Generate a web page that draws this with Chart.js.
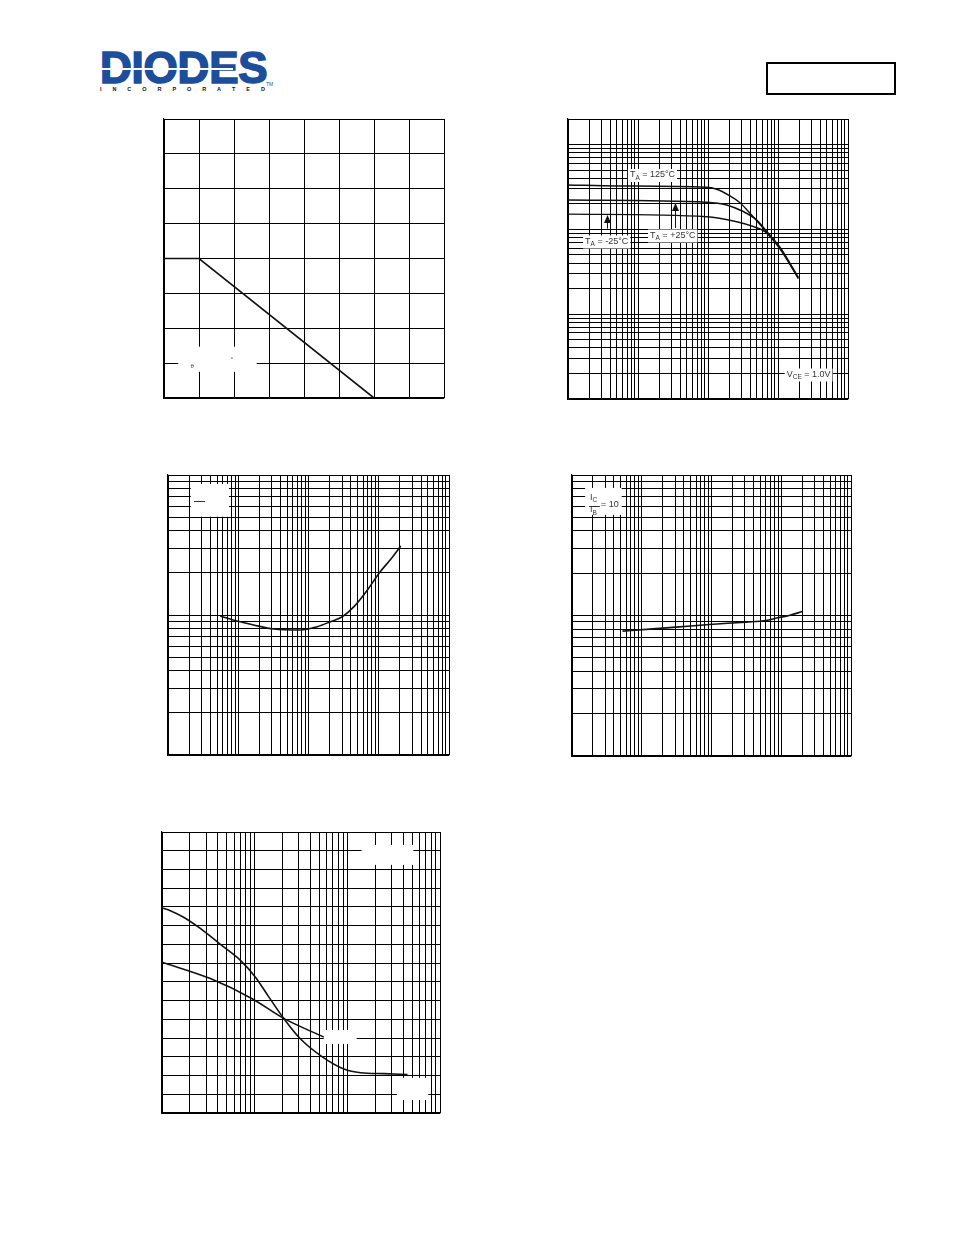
<!DOCTYPE html>
<html lang="en">
<head>
<meta charset="UTF-8">
<title>Typical Characteristics</title>
<script src="https://cdn.jsdelivr.net/npm/chart.js@4.4.1/dist/chart.umd.min.js"></script>
<style>
  body { margin: 0; padding: 0; background: #fff; font-family: 'Liberation Sans', Arial, sans-serif; }
  .page { position: relative; width: 954px; height: 1235px; overflow: hidden; background: #fff; }
  .logo { position: absolute; left: 100px; top: 46px; font: bold 44px 'Liberation Sans', Arial, sans-serif; line-height: 44px; color: #1d4e9c; letter-spacing: -0.2px; -webkit-text-stroke: 1.6px #1d4e9c; }
  .stripe { position: absolute; left: 101px; top: 68px; width: 132px; height: 2px; background: #fff; }
  .inc { position: absolute; left: 100px; top: 87px; width: 165px; display: flex; justify-content: space-between; font: bold 5.5px 'Liberation Sans', Arial, sans-serif; line-height: 5px; color: #111; }
  .tm { position: absolute; left: 266px; top: 81px; font: 5px 'Liberation Sans', Arial, sans-serif; color: #1d4e9c; }
  .partbox { position: absolute; left: 766px; top: 62px; width: 130px; height: 33px; border: 2px solid #000; box-sizing: border-box; }
  canvas { position: absolute; }
</style>
</head>
<body>
<div class="page">
  <div class="logo">DIODES</div>
  <div class="stripe"></div>
  <div class="inc"><span>I</span><span>N</span><span>C</span><span>O</span><span>R</span><span>P</span><span>O</span><span>R</span><span>A</span><span>T</span><span>E</span><span>D</span></div>
  <div class="tm">TM</div>
  <div class="partbox"></div>
  <canvas id="c1"></canvas>
  <canvas id="c2"></canvas>
  <canvas id="c3"></canvas>
  <canvas id="c4"></canvas>
  <canvas id="c5"></canvas>
</div>
<script>
// chart 1 - power derating (linear grid)
const deratingTemp = [0, 25, 150];
const deratingPower = [200, 200, 0];
const deratingXTicks = [0, 25, 50, 75, 100, 125, 150, 175, 200];
const deratingYTicks = [0, 50, 100, 150, 200, 250, 300, 350, 400];

// chart 2 - hFE vs IC, three temperatures
const hfeIc125 = [0.1, 0.5, 9.6, 13.3, 20.6, 28.6, 39.8, 61.7, 107, 195];
const hfe125 = [334, 325, 314, 297, 248, 206, 155, 103, 60, 26.5];
const hfeIc25 = [0.1, 9.6, 18.5, 31.9, 49.6, 69, 107, 195];
const hfe25 = [222, 209, 194, 162, 129, 94, 61, 27];
const hfeIcM25 = [0.1, 9.6, 25.7, 44.4, 65.2, 107, 195];
const hfeM25 = [151, 141, 123, 108, 94, 58.7, 26.5];

// chart 3 - VCE(sat) vs IC
const vceIc = [0.553, 0.958, 1.65, 3.19, 7.69, 13.3, 20.6, 30.3, 44.4, 69, 101, 148, 206];
const vceSat = [0.0984, 0.0906, 0.0849, 0.0794, 0.0781, 0.0825, 0.0896, 0.0972, 0.1147, 0.151, 0.199, 0.25, 0.311];

// chart 4 - VBE(sat) vs IC
const vbeIc = [0.53, 1.3, 3.13, 9.36, 31.3, 60.4, 88.5, 130, 201];
const vbeSat = [0.774, 0.8, 0.826, 0.863, 0.897, 0.921, 0.963, 1.0, 1.068];

// chart 5 - capacitance vs reverse voltage
const capVrA = [0.1, 0.123, 0.171, 0.259, 0.427, 0.702, 1.02, 1.42, 2.06, 3.13, 5.37, 9.19, 13.9, 24.9, 44.6];
const capA = [21.9, 21.6, 20.9, 19.7, 18.0, 16.3, 14.5, 12.4, 10.1, 7.9, 6.0, 4.7, 4.3, 4.2, 4.1];
const capVrB = [0.1, 0.333, 0.94, 2.06, 5.58];
const capB = [16.1, 14.35, 12.2, 10.1, 8.1];
const capYTicks = [0, 2, 4, 6, 8, 10, 12, 14, 16, 18, 20, 22, 24, 26, 28, 30];

const decadeSteps = [1, 2, 3, 4, 5, 6, 7, 8, 9];

function logGrid(min, max) {
  const out = [];
  for (let e = Math.floor(Math.log10(min)); e <= Math.ceil(Math.log10(max)); e++) {
    for (const m of decadeSteps) {
      const v = +(m * Math.pow(10, e)).toPrecision(6);
      if (v >= min * 0.9999 && v <= max * 1.0001) out.push(v);
    }
  }
  return out;
}

function pts(xs, ys) {
  return xs.map((x, i) => ({ x: x, y: ys[i] }));
}

function axis(type, min, max, ticks) {
  return {
    type: type, min: min, max: max,
    ticks: { display: false },
    grid: { color: '#000', lineWidth: 1, drawTicks: false },
    border: { display: true, color: '#000', width: 1.2 },
    afterBuildTicks: s => { s.ticks = ticks.map(v => ({ value: v })); }
  };
}

function curve(data, smooth, width) {
  return {
    data: data, borderColor: '#111', borderWidth: width || 1.5, pointRadius: 0,
    fill: false, cubicInterpolationMode: smooth ? 'monotone' : 'default', tension: 0
  };
}

// white blanks, text and arrows drawn inside the plot
function notes(cfg) {
  return {
    id: 'notes',
    beforeDatasetsDraw(chart) {
      const a = chart.chartArea, ctx = chart.ctx;
      const fx = f => a.left + f * (a.right - a.left);
      const fy = f => a.top + f * (a.bottom - a.top);
      ctx.save();
      ctx.fillStyle = '#fff';
      (cfg.blanks || []).forEach(b => ctx.fillRect(fx(b[0]), fy(b[1]), fx(b[2]) - fx(b[0]), fy(b[3]) - fy(b[1])));
      (cfg.labels || []).forEach(l => {
        let w = 0;
        l.parts.forEach(p => { ctx.font = (p.size || 9) + 'px "Liberation Sans", Arial'; w += ctx.measureText(p.t).width; });
        const x = fx(l.x), y = fy(l.y);
        if (l.bg !== false) { ctx.fillStyle = '#fff'; ctx.fillRect(x - 2, y - 6, w + 4, 13); }
        ctx.fillStyle = '#333';
        ctx.textBaseline = 'middle';
        ctx.textAlign = 'left';
        let cx = x;
        l.parts.forEach(p => {
          ctx.font = (p.size || 9) + 'px "Liberation Sans", Arial';
          ctx.fillText(p.t, cx, y + (p.dy || 0));
          cx += ctx.measureText(p.t).width;
        });
      });
      (cfg.dashes || []).forEach(d => {
        ctx.strokeStyle = '#333'; ctx.lineWidth = 1;
        ctx.beginPath(); ctx.moveTo(fx(d[0]), Math.round(fy(d[2])) + 0.5); ctx.lineTo(fx(d[1]), Math.round(fy(d[2])) + 0.5); ctx.stroke();
      });
      ctx.restore();
    },
    afterDatasetsDraw(chart) {
      const ctx = chart.ctx, sx = chart.scales.x, sy = chart.scales.y;
      ctx.save();
      (cfg.arrows || []).forEach(ar => {
        const x = Math.round(sx.getPixelForValue(ar.x)) + 0.5;
        const y0 = sy.getPixelForValue(ar.from), y1 = sy.getPixelForValue(ar.to);
        ctx.strokeStyle = '#111'; ctx.fillStyle = '#111'; ctx.lineWidth = 1;
        ctx.beginPath(); ctx.moveTo(x, y0); ctx.lineTo(x, y1 + 6); ctx.stroke();
        ctx.beginPath(); ctx.moveTo(x, y1); ctx.lineTo(x - 3.5, y1 + 8); ctx.lineTo(x + 3.5, y1 + 8); ctx.closePath(); ctx.fill();
      });
      ctx.restore();
    }
  };
}

function makeChart(id, area, xAxis, yAxis, datasets, cfg) {
  const pad = 3;
  const cv = document.getElementById(id);
  cv.width = area.w + 2 * pad;
  cv.height = area.h + 2 * pad;
  cv.style.left = (area.left - pad) + 'px';
  cv.style.top = (area.top - pad) + 'px';
  return new Chart(cv.getContext('2d'), {
    type: 'line',
    data: { datasets: datasets },
    options: {
      responsive: false, animation: false, devicePixelRatio: 1,
      layout: { padding: pad },
      plugins: { legend: { display: false }, tooltip: { enabled: false } },
      scales: { x: xAxis, y: yAxis }
    },
    plugins: [notes(cfg)]
  });
}

const sub = (t) => ({ t: t, size: 6.5, dy: 3 });

makeChart('c1', { left: 164, top: 119, w: 280, h: 279 },
  axis('linear', 0, 200, deratingXTicks), axis('linear', 0, 400, deratingYTicks),
  [curve(pts(deratingTemp, deratingPower), false, 1.6)],
  {
    blanks: [[0.051, 0.816, 0.331, 0.906]],
    labels: [
      { x: 0.095, y: 0.885, bg: false, parts: [{ t: 'θ', size: 6 }] },
      { x: 0.238, y: 0.862, bg: false, parts: [{ t: '°', size: 6 }] }
    ]
  });

makeChart('c2', { left: 568, top: 119, w: 280, h: 280 },
  axis('logarithmic', 0.1, 1000, logGrid(0.1, 1000)), axis('logarithmic', 1, 2000, logGrid(1, 2000)),
  [
    curve(pts(hfeIc125, hfe125), true, 1.4),
    curve(pts(hfeIc25, hfe25), true, 1.6),
    curve(pts(hfeIcM25, hfeM25), true, 1.4)
  ],
  {
    labels: [
      { x: 0.221, y: 0.200, parts: [{ t: 'T' }, sub('A'), { t: ' = 125°C' }] },
      { x: 0.293, y: 0.416, parts: [{ t: 'T' }, sub('A'), { t: ' = +25°C' }] },
      { x: 0.061, y: 0.4375, parts: [{ t: 'T' }, sub('A'), { t: ' = -25°C' }] },
      { x: 0.781, y: 0.9125, parts: [{ t: 'V' }, sub('CE'), { t: ' = 1.0V' }] }
    ],
    arrows: [
      { x: 3.38, from: 104, to: 205 },
      { x: 0.357, from: 102, to: 148 }
    ]
  });

makeChart('c3', { left: 168, top: 475, w: 281, h: 280 },
  axis('logarithmic', 0.1, 1000, logGrid(0.1, 1000)), axis('logarithmic', 0.01, 1, logGrid(0.01, 1)),
  [curve(pts(vceIc, vceSat), true, 1.6)],
  {
    blanks: [[0.081, 0.032, 0.217, 0.149]],
    dashes: [[0.0925, 0.132, 0.092]]
  });

makeChart('c4', { left: 572, top: 475, w: 279, h: 281 },
  axis('logarithmic', 0.1, 1000, logGrid(0.1, 1000)), axis('logarithmic', 0.1, 10, logGrid(0.1, 10)),
  [curve(pts(vbeIc, vbeSat), true, 1.6)],
  {
    blanks: [[0.047, 0.046, 0.178, 0.142]],
    labels: [
      { x: 0.0645, y: 0.080, bg: false, parts: [{ t: 'I' }, sub('C')] },
      { x: 0.0645, y: 0.124, bg: false, parts: [{ t: 'I' }, sub('B')] },
      { x: 0.104, y: 0.104, bg: false, parts: [{ t: '= 10' }] }
    ],
    dashes: [[0.061, 0.100, 0.110]]
  });

makeChart('c5', { left: 162, top: 832, w: 278, h: 281 },
  axis('logarithmic', 0.1, 100, logGrid(0.1, 100)), axis('linear', 0, 30, capYTicks),
  [curve(pts(capVrA, capA), true, 1.6), curve(pts(capVrB, capB), true, 1.6)],
  {
    blanks: [[0.718, 0.046, 0.904, 0.117], [0.582, 0.705, 0.700, 0.754], [0.845, 0.875, 0.958, 0.954]]
  });
</script>
</body>
</html>
